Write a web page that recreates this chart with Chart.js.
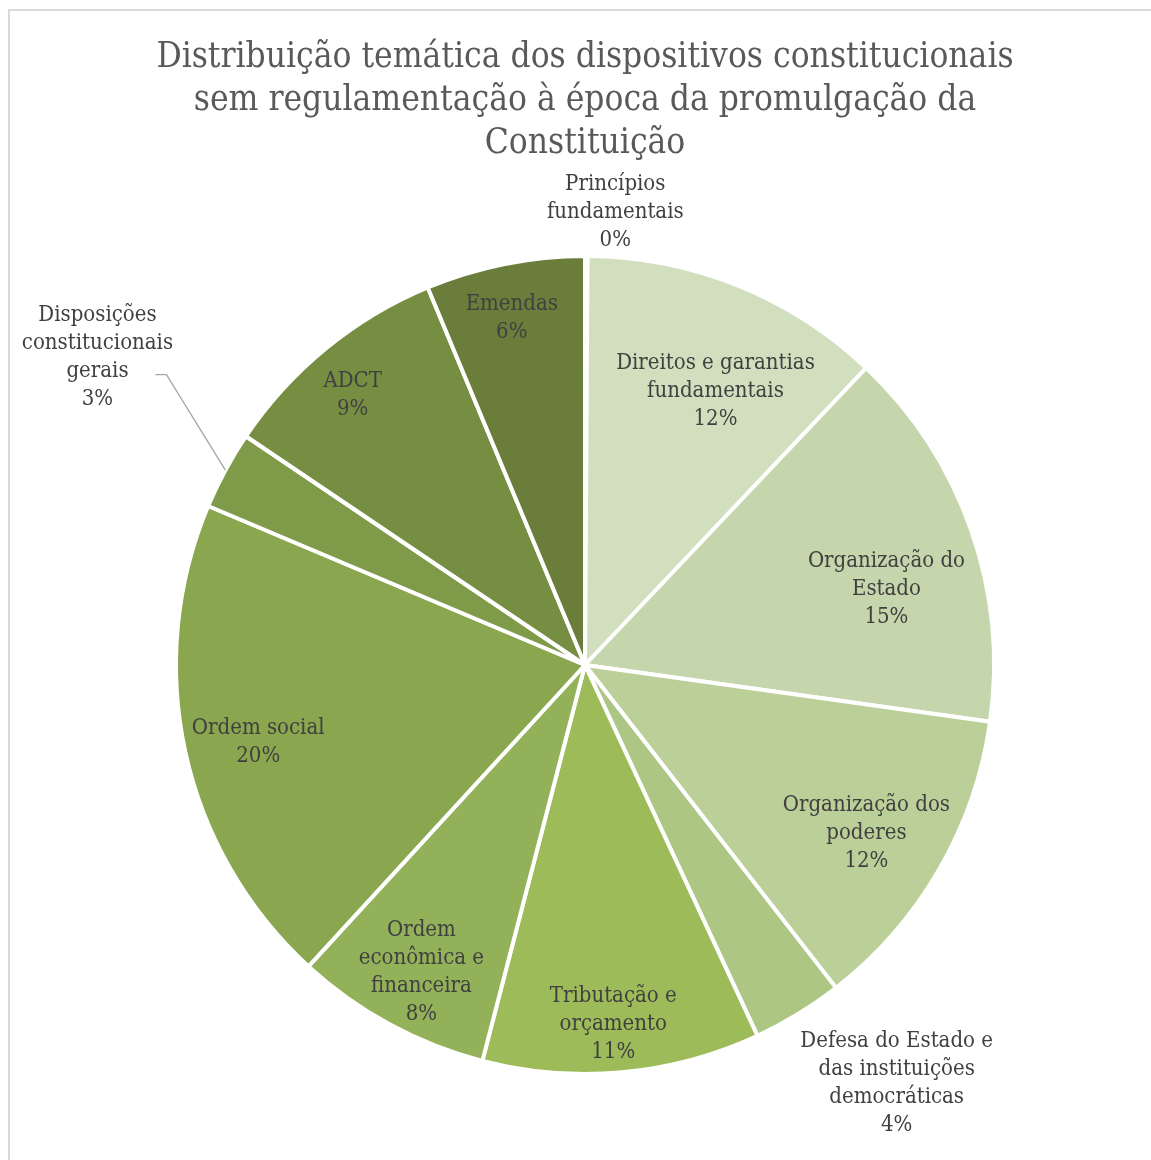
<!DOCTYPE html>
<html><head><meta charset="utf-8">
<script src="https://cdn.jsdelivr.net/npm/chart.js@4.4.1/dist/chart.umd.min.js"></script>
<style>
html,body{margin:0;padding:0;background:#fff;}
#wrap{position:relative;width:1151px;height:1160px;overflow:hidden;}
#frame{position:absolute;left:8px;top:9px;width:2000px;height:2000px;border-top:2px solid #d9d9d9;border-left:2px solid #d9d9d9;}
canvas{position:absolute;left:0;top:0;}
</style></head><body>
<div id="wrap"><div id="frame"></div><canvas id="c" width="1151" height="1160"></canvas></div>
<script>
const titleLines = [
  "Distribuição temática dos dispositivos constitucionais",
  "sem regulamentação à época da promulgação da",
  "Constituição"
];
const categories = [
  "Princípios fundamentais",
  "Direitos e garantias fundamentais",
  "Organização do Estado",
  "Organização dos poderes",
  "Defesa do Estado e das instituições democráticas",
  "Tributação e orçamento",
  "Ordem econômica e financeira",
  "Ordem social",
  "Disposições constitucionais gerais",
  "ADCT",
  "Emendas"
];
const labelLines = [
  ["Princípios", "fundamentais"],
  ["Direitos e garantias", "fundamentais"],
  ["Organização do", "Estado"],
  ["Organização dos", "poderes"],
  ["Defesa do Estado e", "das instituições", "democráticas"],
  ["Tributação e", "orçamento"],
  ["Ordem", "econômica e", "financeira"],
  ["Ordem social"],
  ["Disposições", "constitucionais", "gerais"],
  ["ADCT"],
  ["Emendas"]
];
const values = [0.1, 12.0, 15.2, 12.3, 3.6, 11.0, 7.8, 19.6, 3.1, 9.3, 6.3];
const colors = ["#dfe8d2", "#d1dfbe", "#c5d6ac", "#bbcf98", "#adc684", "#9dbb59", "#93b159", "#8aa64f", "#7f9b4a", "#768e42", "#6a7d3a"];

// label placement, as fractions of the pie radius from the pie centre
const labelPlacement = [
  [0.074, -1.115], [0.319, -0.676], [0.737, -0.192], [0.688, 0.405],
  [0.762, 1.015], [0.069, 0.872], [-0.400, 0.744], [-0.799, 0.182],
  [-1.192, -0.759], [-0.568, -0.668], [-0.179, -0.855]
];
const leaderFor = 8;

const LABEL_FONT = '22px "DejaVu Serif Condensed"';
const TITLE_FONT = '35px "DejaVu Serif Condensed"';

const titlePlugin = {
  id: 'titleDraw',
  afterDraw(chart) {
    const ctx = chart.ctx;
    const arc = chart.getDatasetMeta(0).data[0];
    ctx.save();
    ctx.font = TITLE_FONT;
    ctx.fillStyle = '#595959';
    ctx.textAlign = 'center';
    ctx.textBaseline = 'alphabetic';
    titleLines.forEach((t, i) => ctx.fillText(t, arc.x, 67 + i * 43));
    ctx.restore();
  }
};

const labelPlugin = {
  id: 'sliceLabels',
  afterDraw(chart) {
    const ctx = chart.ctx;
    const meta = chart.getDatasetMeta(0);
    const total = values.reduce((a, b) => a + b, 0);
    ctx.save();
    ctx.font = LABEL_FONT;
    ctx.fillStyle = '#404040';
    ctx.textAlign = 'center';
    ctx.textBaseline = 'middle';
    meta.data.forEach((arc, i) => {
      const R = arc.outerRadius;
      const lx = arc.x + labelPlacement[i][0] * R;
      const ly = arc.y + labelPlacement[i][1] * R + 3;
      const lines = labelLines[i].concat([Math.round(values[i] / total * 100) + '%']);
      const lh = 28;
      const y0 = ly - (lines.length - 1) * lh / 2;
      lines.forEach((t, k) => ctx.fillText(t, lx, y0 + k * lh));
      if (i === leaderFor) {
        const mid = (arc.startAngle + arc.endAngle) / 2;
        const px = arc.x + Math.cos(mid) * R;
        const py = arc.y + Math.sin(mid) * R;
        const gy = y0 + 2 * lh + 3;
        ctx.save();
        ctx.strokeStyle = '#a6a6a6';
        ctx.lineWidth = 1.3;
        ctx.beginPath();
        ctx.moveTo(lx + 58, gy);
        ctx.lineTo(lx + 69, gy);
        ctx.lineTo(px, py);
        ctx.stroke();
        ctx.restore();
      }
    });
    ctx.restore();
  }
};

new Chart(document.getElementById('c'), {
  type: 'pie',
  data: {
    labels: categories,
    datasets: [{ data: values, backgroundColor: colors, borderColor: '#ffffff', borderWidth: 4 }]
  },
  options: {
    responsive: false,
    animation: false,
    layout: { padding: { top: 254, bottom: 84, left: 174, right: 155 } },
    plugins: { legend: { display: false }, tooltip: { enabled: false }, title: { display: false } }
  },
  plugins: [titlePlugin, labelPlugin]
});
</script>
</body></html>
